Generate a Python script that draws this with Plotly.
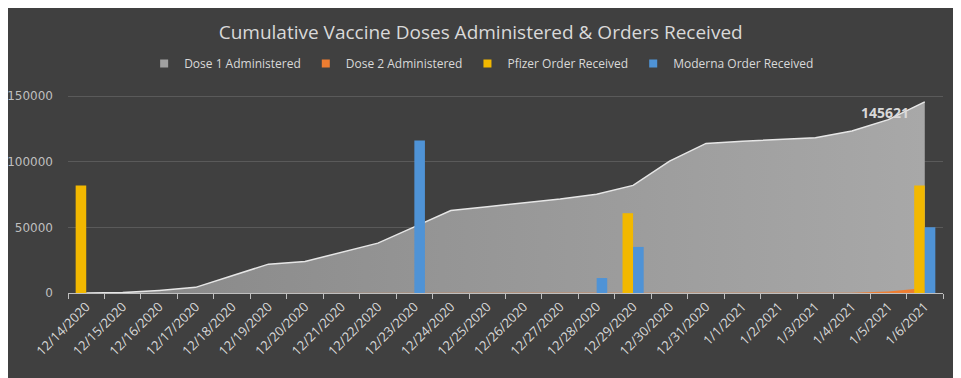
import plotly.graph_objects as go

dates = ["12/14/2020", "12/15/2020", "12/16/2020", "12/17/2020", "12/18/2020", "12/19/2020",
         "12/20/2020", "12/21/2020", "12/22/2020", "12/23/2020", "12/24/2020", "12/25/2020",
         "12/26/2020", "12/27/2020", "12/28/2020", "12/29/2020", "12/30/2020", "12/31/2020",
         "1/1/2021", "1/2/2021", "1/3/2021", "1/4/2021", "1/5/2021", "1/6/2021"]
dose1 = [0, 300, 2000, 4300, 13200, 22000, 24000, 31000, 38000, 50400, 62800, 65800,
         68600, 71600, 75200, 82000, 100500, 114000, 115700, 117200, 118200, 123500, 132100, 145621]
dose2 = [0, 0, 0, 0, 0, 0, 0, 0, 0, 0, 0, 0,
         0, 0, 0, 0, 0, 0, 0, 0, 0, 200, 1200, 3900]
pfizer = [81900, None, None, None, None, None, None, None, None, None, None, None,
          None, None, None, 60800, None, None, None, None, None, None, None, 81900]
moderna = [None, None, None, None, None, None, None, None, None, 116200, None, None,
           None, None, 11400, 35100, None, None, None, None, None, None, None, 50100]
series_names = ["Dose 1 Administered", "Dose 2 Administered",
                "Pfizer Order Received", "Moderna Order Received"]
series_colors = ["#a0a0a0", "#ed7d31", "#f2b800", "#4f93d6"]

FONT = "Open Sans, sans-serif"
TXT = "#d9d9d9"

fig = go.Figure()
fig.add_trace(go.Scatter(x=dates, y=dose1, name=series_names[0], mode="lines",
                         line=dict(color="#e6e6e6", width=1.5), fill="tozeroy",
                         fillgradient=dict(type="horizontal",
                                           colorscale=[[0, "#878787"], [1, "#a8a8a8"]]),
                         showlegend=False))
fig.add_trace(go.Scatter(x=dates, y=dose2, name=series_names[1], mode="lines",
                         line=dict(color="#ed7d31", width=0), fill="tozeroy",
                         fillcolor="#ed7d31", showlegend=False))
fig.add_trace(go.Bar(x=dates, y=pfizer, name=series_names[2], yaxis="y2",
                     marker=dict(color="#f2b800", line=dict(width=0)), showlegend=False))
fig.add_trace(go.Bar(x=dates, y=moderna, name=series_names[3], yaxis="y2",
                     marker=dict(color="#4f93d6", line=dict(width=0)), showlegend=False))

# legend swatches
for nm, col in zip(series_names, series_colors):
    fig.add_trace(go.Scatter(x=[None], y=[None], mode="markers", name=nm,
                             marker=dict(symbol="square", size=8, color=col), showlegend=True))

fig.add_annotation(x=dates[-1], y=dose1[-1], text="<b>%d</b>" % dose1[-1], showarrow=False,
                   xanchor="right", yanchor="middle", xshift=-14, yshift=-11,
                   font=dict(family=FONT, size=14, color=TXT))

fig.update_layout(
    width=953, height=370,
    paper_bgcolor="#404040", plot_bgcolor="#404040",
    margin=dict(l=60, r=18, t=75, b=85, autoexpand=False),
    barmode="group", bargap=0.42, bargroupgap=0,
    title=dict(text="Cumulative Vaccine Doses Administered & Orders Received",
               x=0.496, xanchor="center", xref="container", y=0.935, yanchor="middle",
               font=dict(family=FONT, size=19, color=TXT)),
    legend=dict(orientation="h", x=0.497, xanchor="center", xref="container",
                yref="container", y=0.85, yanchor="middle",
                font=dict(family=FONT, size=12, color=TXT),
                bgcolor="rgba(0,0,0,0)", traceorder="normal", itemwidth=30,
                tracegroupgap=0),
    showlegend=True,
)
fig.update_xaxes(type="category", tickangle=-45, tickson="boundaries", ticks="outside",
                 ticklen=5, tickcolor="#bfbfbf", showline=True, linecolor="#bfbfbf",
                 linewidth=1, showgrid=False,
                 tickfont=dict(family=FONT, size=13, color=TXT))
fig.update_layout(
    yaxis=dict(range=[0, 160000], tickvals=[0, 50000, 100000, 150000], showgrid=True,
               gridcolor="#5a5a5a", gridwidth=1, zeroline=False, tickformat="d",
               tickfont=dict(family="DejaVu Sans, sans-serif", size=12, color="#bfbfbf"),
               ticklabelstandoff=14),
    yaxis2=dict(range=[0, 160000], overlaying="y", showgrid=False, showticklabels=False,
                zeroline=False, visible=False),
)

fig.write_html("out.html")
